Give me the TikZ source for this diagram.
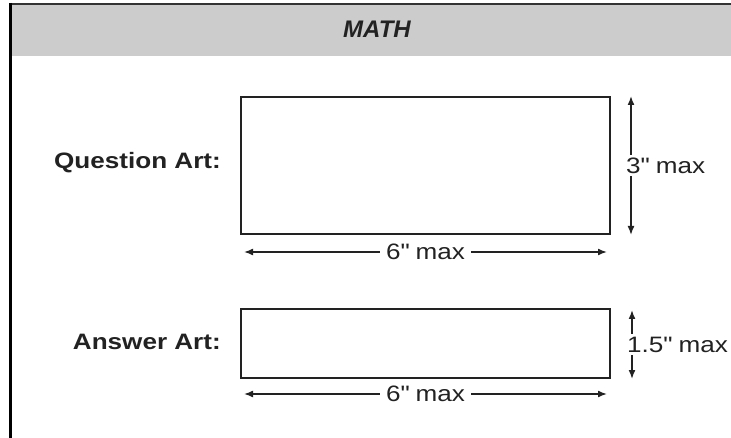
\documentclass[tikz,border=0pt]{standalone}
\usepackage{fontspec}
\setmainfont{Liberation Sans}[FakeStretch=1.17]
\newfontfamily\titlefont{Liberation Sans}
\usepackage{xcolor}
\usepackage{tikz}
\usetikzlibrary{positioning,arrows.meta,calc}

\definecolor{headgray}{HTML}{CCCCCC}
\definecolor{inkgray}{HTML}{222222}

\begin{document}
\begin{tikzpicture}[
  x=1pt, y=-1pt,
  artbox/.style={draw=inkgray, line width=2pt, minimum width=369pt, minimum height=#1, inner sep=0pt},
  lbl/.style={font=\fontsize{22.3}{26}\selectfont\bfseries, text=inkgray, inner sep=0pt},
  dimtext/.style={font=\fontsize{22.3}{26}\selectfont, text=inkgray, fill=white, inner xsep=6pt, inner ysep=3pt},
  dim/.style={{Latex[length=9pt,width=7pt]}-{Latex[length=9pt,width=7pt]}, line width=1.6pt, draw=inkgray},
  node distance=19pt
]
  \useasboundingbox (0,0) rectangle (731,438);

  % Frame and header
  \fill[headgray] (10,4) rectangle (731,56);
  \draw[line width=2pt, black!80] (10,4) -- (731,4);
  \draw[line width=3pt, black] (10,3) -- (10,438);
  \node[font=\titlefont\fontsize{24}{28}\selectfont\bfseries\itshape, text=inkgray] (title) at (377,29) {MATH};

  % Nodes
  \node[artbox=137pt] (qbox) at (425.5,165.5) {};
  \node[artbox=69pt] (abox) at (425.5,343.5) {};
  \node[lbl, left=of qbox, yshift=3pt] (qlabel) {Question Art:};
  \node[lbl, left=of abox, yshift=2pt] (alabel) {Answer Art:};

  % Dimension ends
  \coordinate (qtop) at ([xshift=20pt]qbox.north east);
  \coordinate (qbot) at ([xshift=20pt]qbox.south east);
  \coordinate (qleft) at ([xshift=4pt, yshift=-17pt]qbox.south west);
  \coordinate (qright) at ([xshift=-4pt, yshift=-17pt]qbox.south east);
  \coordinate (atop) at ([xshift=21pt, yshift=-2pt]abox.north east);
  \coordinate (abot) at ([xshift=21pt]abox.south east);
  \coordinate (aleft) at ([xshift=4pt, yshift=-15pt]abox.south west);
  \coordinate (aright) at ([xshift=-4pt, yshift=-15pt]abox.south east);

  % Arrows
  \draw[dim] (qtop) -- (qbot);
  \draw[dim] (qleft) -- (qright);
  \draw[dim] (atop) -- (abot);
  \draw[dim] (aleft) -- (aright);
  \node[dimtext, anchor=west, xshift=-11pt] (qhigh) at ($(qtop)!0.5!(qbot)$) {3\textquotedbl{} max};
  \node[dimtext] (qwide) at ($(qleft)!0.5!(qright)$) {6\textquotedbl{} max};
  \node[dimtext, anchor=west, xshift=-11pt] (ahigh) at ($(atop)!0.5!(abot)$) {1.5\textquotedbl{} max};
  \node[dimtext] (awide) at ($(aleft)!0.5!(aright)$) {6\textquotedbl{} max};
\end{tikzpicture}
\end{document}
